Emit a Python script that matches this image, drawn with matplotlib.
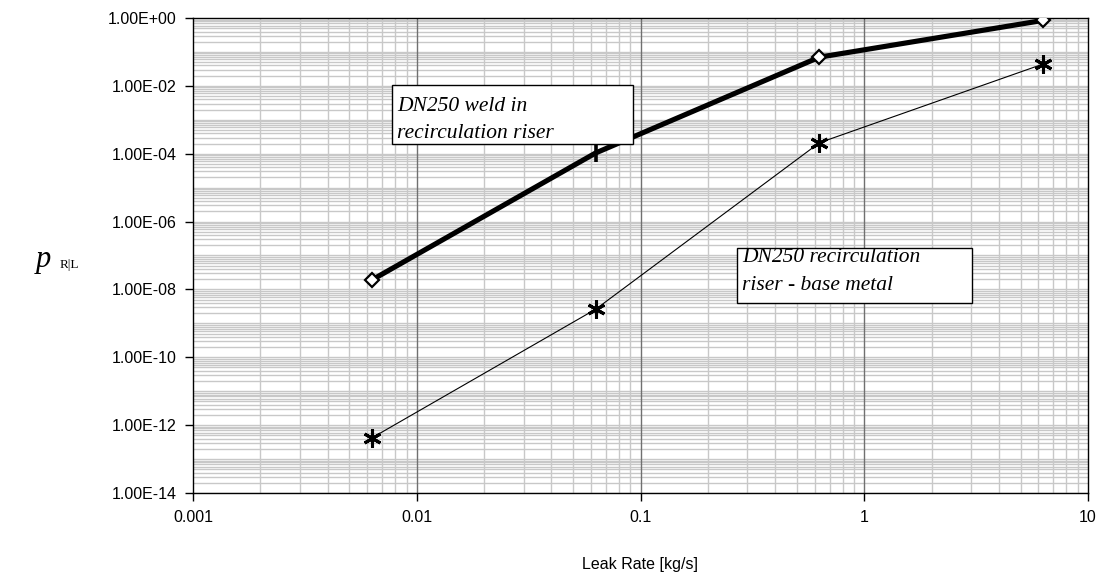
#!/usr/bin/env python3
"""Rupture probability given leak rate for DN250 recirculation riser."""
import matplotlib
matplotlib.use("Agg")
import matplotlib.pyplot as plt
from matplotlib.patches import Rectangle
from matplotlib.ticker import FixedLocator, FuncFormatter, NullFormatter
import numpy as np

# leak rate [kg/s]
leak_rate = [0.0063, 0.063, 0.63, 6.3]
# p(R|L) for the weld and the base metal
p_weld = [1.9e-8, 1.05e-4, 7.0e-2, 0.85]
p_base = [4.2e-13, 2.6e-9, 2.1e-4, 4.4e-2]

x_ticks = [0.001, 0.01, 0.1, 1, 10]
x_tick_labels = ["0.001", "0.01", "0.1", "1", "10"]
y_ticks = [1e-14, 1e-12, 1e-10, 1e-8, 1e-6, 1e-4, 1e-2, 1e0]

weld_label = ["DN250 weld in", "recirculation riser"]
base_label = ["DN250 recirculation", "riser - base metal"]

SANS = "Liberation Sans"
SERIF = "Liberation Serif"
W, H = 1099, 576


def px(x, y):
    """Pixel position (from top-left) to figure fraction."""
    return x / W, 1 - y / H


fig = plt.figure(figsize=(W / 100, H / 100), dpi=100)
ax = fig.add_axes([193 / W, 1 - 493 / H, (1088 - 193) / W, (493 - 18) / H])
ax.set_xscale("log")
ax.set_yscale("log")
ax.set_xlim(0.001, 10)
ax.set_ylim(1e-14, 1)

# grid: light lines at every 1..9 step, darker decade lines on x
minor_y = [m * 10.0 ** k for k in range(-14, 0) for m in range(1, 10)]
for y in minor_y:
    ax.axhline(y, color="#c8c8c8", lw=1.0, zorder=0)
minor_x = [m * 10.0 ** k for k in range(-3, 1) for m in range(2, 10)]
for x in minor_x:
    ax.axvline(x, color="#c8c8c8", lw=1.0, zorder=0)
for x in x_ticks[1:-1]:
    ax.axvline(x, color="#707070", lw=1.0, zorder=0)

ax.plot(leak_rate, p_weld, color="black", lw=3.7, zorder=3)
ax.plot([leak_rate[i] for i in (0, 2, 3)], [p_weld[i] for i in (0, 2, 3)],
        ls="none", marker="D", ms=7, mfc="white", mec="black", mew=1.6, zorder=4)
ax.plot([leak_rate[1]], [p_weld[1]], ls="none", marker="|", ms=13,
        mec="black", mew=2.6, zorder=4)

ax.plot(leak_rate, p_base, color="black", lw=0.8, zorder=3)
ax.plot(leak_rate, p_base, ls="none", marker=(6, 2, 0), ms=13,
        mec="black", mew=2.2, zorder=4)

ax.xaxis.set_major_locator(FixedLocator(x_ticks))
ax.xaxis.set_minor_locator(FixedLocator([]))
ax.set_xticklabels(x_tick_labels)
ax.yaxis.set_major_locator(FixedLocator(y_ticks))
ax.yaxis.set_minor_locator(FixedLocator([]))
ax.yaxis.set_major_formatter(FuncFormatter(
    lambda v, _: "1.00E{:+03d}".format(int(round(np.log10(v))))))
ax.yaxis.set_minor_formatter(NullFormatter())
ax.tick_params(axis="both", which="major", direction="out", length=6,
               width=1, labelsize=11.5, pad=6)
for lbl in ax.get_xticklabels() + ax.get_yticklabels():
    lbl.set_fontfamily(SANS)

for s in ax.spines.values():
    s.set_linewidth(1.0)
    s.set_color("black")

fig.text(*px(640, 565), "Leak Rate [kg/s]", fontfamily=SANS, fontsize=11.5,
         ha="center", va="center")

fig.text(*px(36, 267), "p", fontfamily=SERIF, fontstyle="italic", fontsize=22,
         va="baseline")
fig.text(*px(60, 268), "R|L", fontfamily=SERIF, fontsize=9.5, va="baseline")

# annotation boxes with two text lines each
for (x0, y0, x1, y1), lines, tx, baselines in [
    ((392, 85, 633, 144), weld_label, 397, (111, 138)),
    ((737, 248, 972, 303), base_label, 742, (262, 290)),
]:
    fx0, fy1 = px(x0, y1)
    fig.patches.append(Rectangle((fx0, fy1), (x1 - x0) / W, (y1 - y0) / H,
                                 transform=fig.transFigure, fc="white",
                                 ec="black", lw=1.0, zorder=5))
    for line, by in zip(lines, baselines):
        fig.text(*px(tx, by), line, fontfamily=SERIF, fontstyle="italic",
                 fontsize=15.5, va="baseline", ha="left", zorder=6)

fig.savefig("out.png", dpi=100)
